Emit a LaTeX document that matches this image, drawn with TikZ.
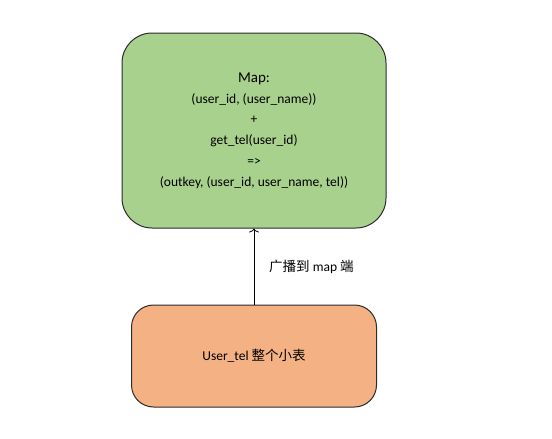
\documentclass[tikz,border=0pt]{standalone}
\usepackage{fontspec}
\setmainfont{Carlito}
\newfontfamily\cjk{Noto Sans CJK SC}
\usepackage{tikz}
\usetikzlibrary{arrows,arrows.meta,positioning}

\definecolor{mapgreen}{HTML}{A9D18E}
\definecolor{tblorange}{HTML}{F4B183}
\definecolor{boxline}{HTML}{2B2B2B}

\tikzset{
  stagebox/.style={draw=boxline, line width=1pt, align=center, inner sep=0pt,
    font=\fontsize{13.5}{20.8}\selectfont},
}

\begin{document}
\begin{tikzpicture}[x=1pt,y=-1pt]
  \useasboundingbox (0,0) rectangle (552,439);
  \node (map) [stagebox, fill=mapgreen, rounded corners=30pt,
    minimum width=264pt, minimum height=195pt] at (254,130.5)
    {{\fontsize{15}{20.8}\selectfont Map:}\\
     (user\_id, (user\_name))\\
     +\\
     get\_tel(user\_id)\\
     =>\\
     (outkey, (user\_id, user\_name, tel))};
  \node (tbl) [stagebox, fill=tblorange, rounded corners=22pt,
    minimum width=245pt, minimum height=102pt] at (254,356)
    {User\_tel {\cjk 整个小表}};
  \draw[-{To[length=4pt,width=10pt]}, line width=0.8pt] (tbl) to coordinate (mid) (map);
  \node (bcast) [right=15pt of mid, inner sep=0pt,
    font=\fontsize{13.5}{16}\selectfont] {{\cjk 广播到} map {\cjk 端}};
\end{tikzpicture}
\end{document}
